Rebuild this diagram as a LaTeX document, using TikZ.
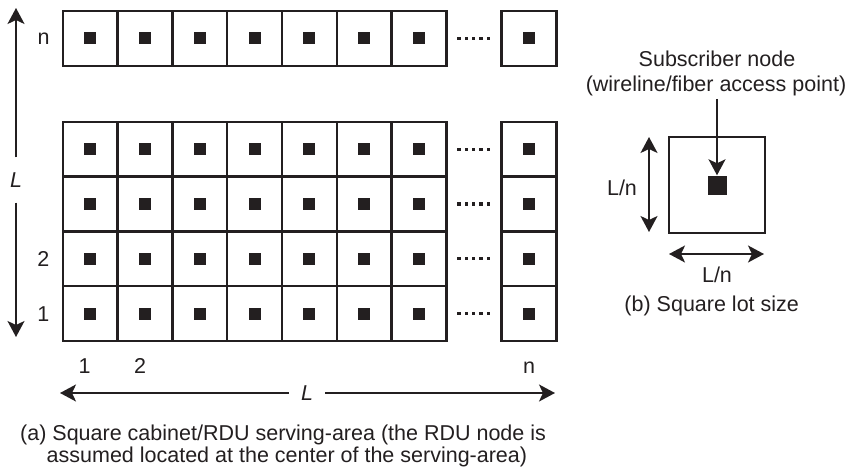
\documentclass[tikz,border=0pt]{standalone}
\usepackage{fontspec}
\setmainfont{Liberation Sans}
\usetikzlibrary{arrows.meta}
\definecolor{ink}{RGB}{35,31,32}
\begin{document}
\begin{tikzpicture}[x=1pt,y=-1pt,
  cellbox/.style={draw=ink, line width=2.4pt},
  dotmark/.style={fill=ink, draw=none, minimum size=12pt, inner sep=0pt},
  lbl/.style={font=\fontsize{21.5}{26}\selectfont, inner sep=0pt, text=ink},
  axislbl/.style={font=\fontsize{21.5}{26}\selectfont\itshape, text=ink, inner xsep=12pt, inner ysep=15pt},
  tip/.style={-{Stealth[length=16pt,width=17pt,inset=4pt]}},
  axis/.style={tip, draw=ink, line width=1.8pt},
  dim/.style={{Stealth[length=16pt,width=17pt,inset=4pt]}-{Stealth[length=16pt,width=17pt,inset=4pt]}, draw=ink, line width=1.8pt},
]
\useasboundingbox (0,0) rectangle (850,468);

% ---- (a) serving area: top row n and rows 1..4 of the lower block ----
\foreach \ry in {11,121.8,176.6,231.4,286.2} {
  \foreach \i in {0,...,6} {
    \pgfmathsetmacro\cx{62.7+54.8*\i}
    \draw[cellbox] (\cx,\ry) rectangle ++(54.8,54.8);
    \node[dotmark] at (\cx+27.4,\ry+27.4) {};
  }
  % last column
  \draw[cellbox] (501.5,\ry) rectangle ++(54.8,54.8);
  \node[dotmark] at (528.9,\ry+27.4) {};
  % ellipsis dots between column 7 and column n
  \foreach \k in {0,...,4} {
    \fill[ink] (457.4+7.3*\k,\ry+25.8) rectangle ++(3.2,3.2);
  }
}

% row labels
\node[lbl] (rn) at (43.5,38.4) {n};
\node[lbl] (r2) at (43.3,259) {2};
\node[lbl] (r1) at (43.3,314) {1};
% column labels
\node[lbl, anchor=base] (c1) at (84.5,373) {1};
\node[lbl, anchor=base] (c2) at (140,373) {2};
\node[lbl, anchor=base] (cn) at (529,373) {n};

% vertical extent L
\node[axislbl] (Lv) at (16,180) {L};
\coordinate (vtop) at (16,8);
\coordinate (vbot) at (16,337);
\draw[axis] (Lv) -- (vtop);
\draw[axis] (Lv) -- (vbot);

% horizontal extent L
\node[axislbl] (Lh) at (307,393) {L};
\coordinate (hleft) at (60,394);
\coordinate (hright) at (555,394);
\draw[axis] (Lh) -- (hleft |- Lh);
\draw[axis] (Lh) -- (hright |- Lh);

% caption (a)
\node[lbl, anchor=base west] (capa1) at (20,440) {(a) Square cabinet/RDU serving-area (the RDU node is};
\node[lbl, anchor=base west] (capa2) at (46.5,462) {assumed located at the center of the serving-area)};

% ---- (b) square lot ----
\node[draw=ink, line width=2.4pt, minimum size=95.5pt, inner sep=0pt] (lot) at (717,185) {};
\node[fill=ink, minimum size=19pt, inner sep=0pt] (sub) at (717,185) {};

\node[lbl, anchor=base] (subt1) at (717,66.7) {Subscriber node};
\node[lbl, anchor=base] (subt2) at (716,92) {(wireline/fiber access point)};
\coordinate (feed) at (717,99);
\draw[axis] (feed) -- (sub.north);

\coordinate (lvt) at (649,137);
\coordinate (lvb) at (649,232);
\draw[dim] (lvt) -- (lvb);
\node[lbl, anchor=base] (lnv) at (622,195) {L/n};

\coordinate (lhl) at (669,254);
\coordinate (lhr) at (764,254);
\draw[dim] (lhl) -- (lhr);
\node[lbl, anchor=base] (lnh) at (717,282.7) {L/n};

\node[lbl, anchor=base] (capb) at (711.7,311.7) {(b) Square lot size};
\end{tikzpicture}
\end{document}
